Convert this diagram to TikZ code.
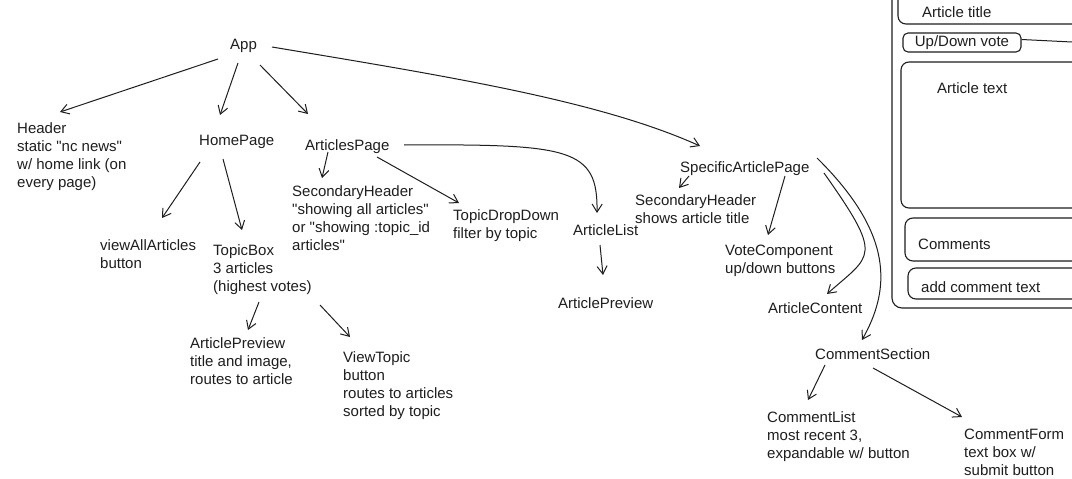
\documentclass[tikz,border=0pt]{standalone}
\usepackage{fontspec}
\setmainfont{Liberation Sans}
\usepackage{tikz}
\usetikzlibrary{arrows.meta}
\definecolor{ink}{RGB}{30,30,30}
\newcommand{\qq}{\textquotedbl}

\begin{document}
\begin{tikzpicture}[x=1pt,y=-1pt,
  lbl/.style={anchor=north west,inner sep=0pt,align=left,text=ink,font=\fontsize{15}{18}\selectfont},
  link/.style={ink,line width=1pt,-{Straight Barb[length=8pt,width=10pt]}},
  frame/.style={ink,line width=1.1pt,rounded corners=8pt},
  btn/.style={draw=ink,line width=1.1pt,rounded corners=5pt,inner sep=0pt,text=ink,
    minimum width=118pt,minimum height=19pt,font=\fontsize{15}{18}\selectfont}]

    \useasboundingbox (0,0) rectangle (1072,479);
    \clip (0,0) rectangle (1072,479);
    \fill[white] (0,0) rectangle (1072,479);

    % Component tree
    \node[lbl] (app) at (230,39) {App};
    \node[lbl] (header) at (17,122) {Header\\static \qq nc news\qq\\w/ home link (on\\every page)};
    \node[lbl] (home) at (199,135) {HomePage};
    \node[lbl] (artpage) at (305,139) {ArticlesPage};
    \node[lbl] (sechead) at (292,185) {SecondaryHeader\\\qq showing all articles\qq\\or \qq showing :topic\_id\\articles\qq};
    \node[lbl] (topicdd) at (453,209) {TopicDropDown\\filter by topic};
    \node[lbl] (viewall) at (100,239) {viewAllArticles\\button};
    \node[lbl] (topicbox) at (213,244) {TopicBox\\3 articles\\(highest votes)};
    \node[lbl] (preview) at (190,337) {ArticlePreview\\title and image,\\routes to article};
    \node[lbl] (viewtopic) at (343,351) {ViewTopic\\button\\routes to articles\\sorted by topic};
    \node[lbl] (artlist) at (573,224) {ArticleList};
    \node[lbl] (listprev) at (558,297) {ArticlePreview};
    \node[lbl] (specific) at (680,161) {SpecificArticlePage};
    \node[lbl] (sechead2) at (635,194) {SecondaryHeader\\shows article title};
    \node[lbl] (vote) at (725,245) {VoteComponent\\up/down buttons};
    \node[lbl] (content) at (768,302) {ArticleContent};
    \node[lbl] (comsec) at (815,348) {CommentSection};
    \node[lbl] (comlist) at (767,411) {CommentList\\most recent 3,\\expandable w/ button};
    \node[lbl] (comform) at (964,429) {CommentForm\\text box w/\\submit button};

    % Links from App
    \draw[link] ([shift={(-12,20)}]app.north west) -- ([shift={(43,-10)}]header.north west);
    \draw[link] ([shift={(8,24)}]app.north west) -- ([shift={(21,-20)}]home.north west);
    \draw[link] ([shift={(30,26)}]app.north west) -- ([shift={(3,-25)}]artpage.north west);
    \draw[link] ([shift={(42,8)}]app.north west) .. controls +(180,30) and +(-100,-45) .. ([shift={(20,-15)}]specific.north west);

    % HomePage
    \draw[link] ([shift={(1,27)}]home.north west) -- ([shift={(62,-21)}]viewall.north west);
    \draw[link] ([shift={(24,24)}]home.north west) -- ([shift={(29,-14)}]topicbox.north west);
    \draw[link] ([shift={(46,58)}]topicbox.north west) -- ([shift={(58,-7)}]preview.north west);
    \draw[link] ([shift={(107,61)}]topicbox.north west) -- ([shift={(7,-14)}]viewtopic.north west);

    % ArticlesPage
    \draw[link] ([shift={(23,13)}]artpage.north west) -- ([shift={(30,-7)}]sechead.north west);
    \draw[link] ([shift={(72,18)}]artpage.north west) -- ([shift={(6,-6)}]topicdd.north west);
    \draw[link] ([shift={(99,6)}]artpage.north west) .. controls +(166,-1) and +(1,-65) .. ([shift={(24,-11)}]artlist.north west);
    \draw[link] ([shift={(27,21)}]artlist.north west) -- ([shift={(45,-22)}]listprev.north west);

    % SpecificArticlePage
    \draw[link] ([shift={(9,15)}]specific.north west) -- ([shift={(44,-6)}]sechead2.north west);
    \draw[link] ([shift={(105,15)}]specific.north west) -- ([shift={(43,-10)}]vote.north west);
    \draw[link] ([shift={(144,12)}]specific.north west) .. controls +(60,85) and +(45,-40) .. ([shift={(59,-8)}]content.north west);
    \draw[link] ([shift={(137,-3)}]specific.north west) .. controls +(78,77) and +(28,-50) .. ([shift={(47,-8)}]comsec.north west);
    \draw[link] ([shift={(10,17)}]comsec.north west) -- ([shift={(41,-11)}]comlist.north west);
    \draw[link] ([shift={(58,20)}]comsec.north west) -- ([shift={(-2,-12)}]comform.north west);

    % Page sketch
    \draw[frame,rounded corners=10pt] (892,-20) rectangle (1100,308);
    \draw[frame] (898,-20) rectangle (1100,24);
    \node[lbl] (ttl) at (922,6) {Article title};
    \node[btn] (updown) at (962,42.5) {Up/Down vote};
    \coordinate (offpage) at (1072,42);
    \draw[ink,line width=1pt] ([yshift=3pt]updown.east) -- (offpage);
    \draw[frame] (901,62) rectangle (1100,208);
    \node[lbl] (body) at (937,82) {Article text};
    \draw[frame] (905,218) rectangle (1100,261);
    \node[lbl] (coms) at (918,239) {Comments};
    \draw[frame] (908,268) rectangle (1100,299);
    \node[lbl] (addcom) at (921,281) {add comment text};

\end{tikzpicture}
\end{document}
